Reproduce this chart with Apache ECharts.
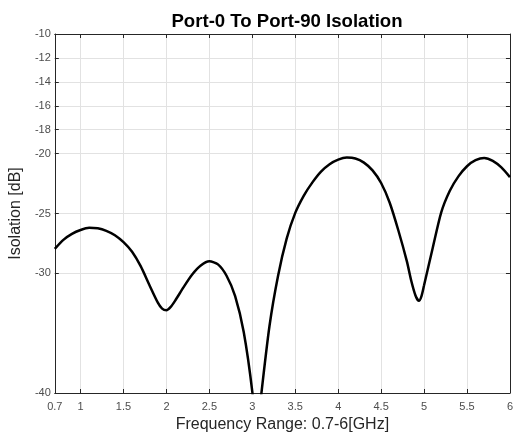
<!DOCTYPE html>
<html>
<head>
<meta charset="utf-8">
<script src="https://cdn.jsdelivr.net/npm/echarts@6/dist/echarts.min.js"></script>
<style>html,body{margin:0;padding:0;background:#fff}#c{width:516px;height:438px}</style>
</head>
<body>
<div id="c"></div>
<script>
var titleText = 'Port-0 To Port-90 Isolation';
var xName = 'Frequency Range: 0.7-6[GHz]';
var yName = 'Isolation [dB]';
var xTicks = [0.7, 1, 1.5, 2, 2.5, 3, 3.5, 4, 4.5, 5, 5.5, 6];
var yTicks = [-40, -30, -25, -20, -18, -16, -14, -12, -10];
var freq = [0.7, 0.8, 0.9, 1.0, 1.1, 1.2, 1.3, 1.4, 1.5, 1.6, 1.7, 1.8, 1.9, 1.95, 2.0, 2.05, 2.1, 2.2, 2.3, 2.4, 2.5, 2.6, 2.7, 2.8, 2.9, 3.0, 3.05, 3.1, 3.2, 3.3, 3.4, 3.5, 3.6, 3.7, 3.8, 3.9, 4.0, 4.1, 4.2, 4.3, 4.4, 4.5, 4.6, 4.7, 4.8, 4.85, 4.9, 4.94, 4.97, 5.0, 5.1, 5.2, 5.3, 5.4, 5.5, 5.6, 5.7, 5.8, 5.9, 6.0];
var iso = [-27.95, -27.2, -26.7, -26.38, -26.2, -26.24, -26.45, -26.82, -27.4, -28.2, -29.4, -30.95, -32.45, -32.95, -33.08, -32.8, -32.3, -31.15, -30.1, -29.35, -29.0, -29.25, -30.2, -31.9, -34.9, -39.9, -44.0, -40.4, -34.4, -30.2, -27.1, -24.95, -23.5, -22.4, -21.5, -20.88, -20.5, -20.33, -20.4, -20.75, -21.4, -22.45, -24.1, -26.4, -29.0, -30.6, -31.85, -32.3, -31.9, -31.0, -27.9, -24.9, -23.1, -21.9, -21.05, -20.55, -20.36, -20.6, -21.15, -21.96];

var data = freq.map(function (f, i) { return [f, iso[i]]; });
var axisColor = '#262626';
var labelColor = '#4d4d4d';
var font = 'Liberation Sans, Arial, Helvetica, sans-serif';

function xAx(pos, show) {
  return {
    type: 'value', position: pos, min: 0.7, max: 6,
    name: show ? xName : '', nameLocation: 'middle', nameGap: 24,
    nameTextStyle: { fontSize: 16, color: '#262626', fontFamily: font },
    axisLine: { show: true, onZero: false, lineStyle: { color: axisColor, width: 1 } },
    axisTick: { show: true, inside: true, length: 4, customValues: xTicks, lineStyle: { color: axisColor } },
    axisLabel: { show: show, customValues: xTicks, fontSize: 11, color: labelColor, fontFamily: font, margin: 8, hideOverlap: false },
    splitLine: { show: show, lineStyle: { color: '#e2e2e2', width: 1 } }
  };
}
function yAx(pos, show) {
  return {
    type: 'value', position: pos, min: -40, max: -10,
    name: show ? yName : '', nameLocation: 'middle', nameGap: 30, nameRotate: 90,
    nameTextStyle: { fontSize: 16, color: '#262626', fontFamily: font },
    axisLine: { show: true, onZero: false, lineStyle: { color: axisColor, width: 1 } },
    axisTick: { show: true, inside: true, length: 4, customValues: yTicks, lineStyle: { color: axisColor } },
    axisLabel: { show: show, customValues: yTicks, fontSize: 11, color: labelColor, fontFamily: font, margin: 4, hideOverlap: false },
    splitLine: { show: show, lineStyle: { color: '#e2e2e2', width: 1 } }
  };
}

var chart = echarts.init(document.getElementById('c'), null, { renderer: 'canvas' });
chart.setOption({
  animation: false,
  backgroundColor: '#ffffff',
  title: {
    text: titleText, left: 282, top: 7, textAlign: 'center',
    textStyle: { fontSize: 18.6, fontWeight: 'bold', color: '#000', fontFamily: font }
  },
  grid: { left: 53.5, right: 6, top: 34, bottom: 42, containLabel: false },
  xAxis: [xAx('bottom', true), xAx('top', false)],
  yAxis: [yAx('left', true), yAx('right', false)],
  series: [{
    type: 'line', data: data, xAxisIndex: 0, yAxisIndex: 0,
    showSymbol: false, smooth: 0.25, clip: true,
    lineStyle: { color: '#000', width: 2.5 }
  }]
});
</script>
</body>
</html>
